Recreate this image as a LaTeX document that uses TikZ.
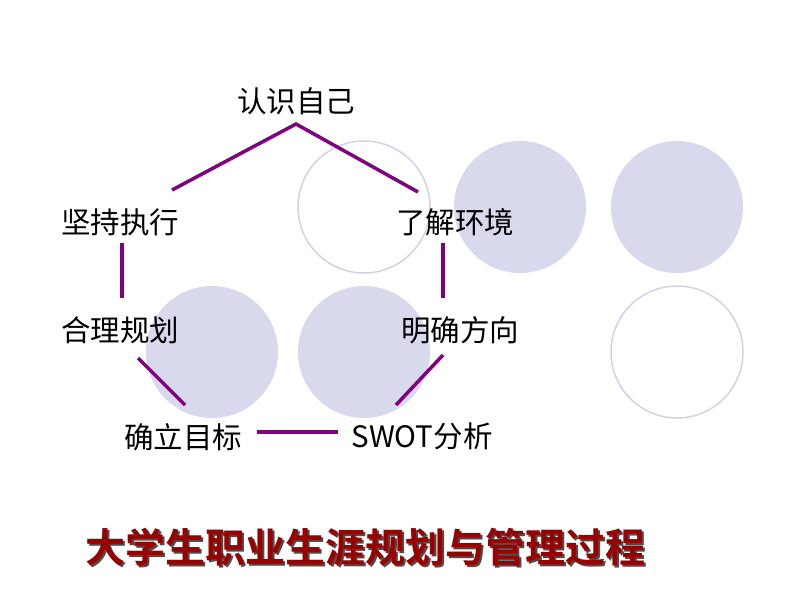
\documentclass[tikz,border=0pt]{standalone}
\usepackage{fontspec}
\newfontfamily\cjk{Noto Sans CJK SC}
\newfontfamily\cjkb{Noto Sans CJK SC Bold}
\setmainfont{Liberation Serif}
\begin{document}
\begin{tikzpicture}[x=1pt,y=-1pt,
  fc/.style={fill=lav,draw=none},
  oc/.style={draw=lavline,line width=1.5pt},
  lk/.style={draw=plum,line width=3.5pt},
  lb/.style={font=\fontsize{29.5}{32}\selectfont\cjk}]
\definecolor{lav}{RGB}{217,217,238}
\definecolor{lavline}{RGB}{210,210,232}
\definecolor{plum}{RGB}{128,0,128}
\definecolor{tred}{RGB}{153,0,0}
\useasboundingbox (0,0) rectangle (800,600);
\fill[white] (0,0) rectangle (800,600);
\fill[fc] (520,207) circle (66);
\fill[fc] (677,207) circle (66);
\fill[fc] (212,352) circle (66);
\fill[fc] (364,352) circle (66);
\draw[oc] (364,207) circle (66);
\draw[oc] (677,352) circle (66);
\node[lb] (a) at (296,101) {认识自己};
\node[lb] (b) at (120,222) {坚持执行};
\node[lb] (c) at (455,222) {了解环境};
\node[lb] (d) at (120,330) {合理规划};
\node[lb] (e) at (460,330) {明确方向};
\node[lb] (f) at (183,437) {确立目标};
\node[lb] (g) at (422,436) {SWOT分析};
\coordinate (p1) at (172,190); \coordinate (p2) at (296,124); \coordinate (p3) at (418,192);
\coordinate (q1) at (122,243); \coordinate (q2) at (122,298);
\coordinate (r1) at (443,243); \coordinate (r2) at (443,298);
\coordinate (s1) at (138,358); \coordinate (s2) at (185,405);
\coordinate (t1) at (443,355); \coordinate (t2) at (396,405);
\coordinate (u1) at (257,432); \coordinate (u2) at (338,432);
\draw[lk] (p1) -- (p2) -- (p3);
\draw[lk] (q1) -- (q2);
\draw[lk] (r1) -- (r2);
\draw[lk] (s1) -- (s2);
\draw[lk] (t1) -- (t2);
\draw[lk] (u1) -- (u2);
\node[font=\fontsize{40}{44}\selectfont\cjkb,text=tred,
  preaction={}] (title) at (365,548) {\rlap{\hspace{2pt}\raisebox{-2pt}{\color{black!70}大学生职业生涯规划与管理过程}}大学生职业生涯规划与管理过程};
\end{tikzpicture}
\end{document}
